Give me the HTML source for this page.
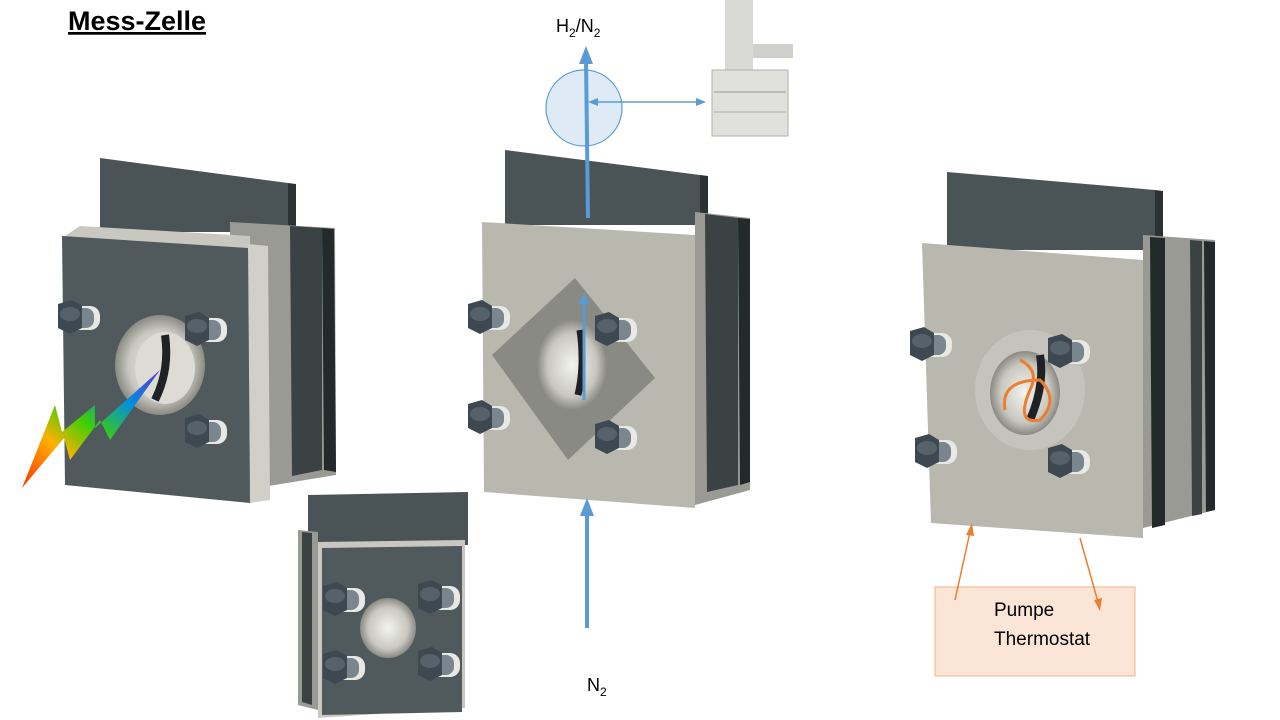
<!DOCTYPE html>
<html><head><meta charset="utf-8"><style>
html,body{margin:0;padding:0;background:#fff}
svg{display:block}
text{font-family:"Liberation Sans",sans-serif}
</style></head><body>
<svg width="1280" height="720" viewBox="0 0 1280 720" xmlns="http://www.w3.org/2000/svg">
<defs>
<linearGradient id="rb" x1="0" y1="1" x2="1" y2="0">
<stop offset="0" stop-color="#ff3000"/><stop offset="0.3" stop-color="#ffb000"/><stop offset="0.5" stop-color="#40d000"/><stop offset="0.75" stop-color="#0090e0"/><stop offset="1" stop-color="#6030d0"/>
</linearGradient>
<radialGradient id="hole"><stop offset="0" stop-color="#f4f4f0"/><stop offset="0.7" stop-color="#c8c8c0"/><stop offset="1" stop-color="#8a8a84"/></radialGradient>
<g id="bolt"><rect x="-14" y="-12" width="36" height="24" rx="10" fill="#e8e8e4"/><rect x="-14" y="-10" width="30" height="20" rx="8" fill="#7a868e"/><polygon points="-20,-14 -6,-18 4,-12 4,10 -8,16 -20,10" fill="#3e4850"/><ellipse cx="-8" cy="-4" rx="10" ry="7" fill="#56626a"/></g>
</defs>

<text x="68" y="30" font-size="27" font-weight="bold" text-decoration="underline">Mess-Zelle</text>

<!-- LEFT CELL -->
<polygon points="100,158 288,183 288,232 100,232" fill="#4a5457"/>
<polygon points="288,183 296,184 296,232 288,232" fill="#2b3234"/>
<polygon points="230,222 335,228 336,475 232,492" fill="#9a9a94"/>
<polygon points="290,226 322,228 322,470 292,476" fill="#3a4244"/>
<polygon points="322,228 334,229 336,472 324,470" fill="#24292b"/>
<polygon points="80,226 250,236 250,250 62,238" fill="#c8c8c0"/>
<polygon points="248,244 268,246 270,500 250,503" fill="#d0d0c8"/>
<polygon points="62,236 248,248 250,503 65,485" fill="#505a5d"/>
<ellipse cx="160" cy="365" rx="45" ry="50" fill="url(#hole)"/>
<ellipse cx="165" cy="368" rx="30" ry="36" fill="#dcdcd4"/>
<path d="M155,400 Q170,370 165,335" stroke="#1e2224" stroke-width="8" fill="none"/>
<use href="#bolt" x="78" y="318"/>
<use href="#bolt" x="205" y="330"/>
<use href="#bolt" x="205" y="432"/>
<polygon points="22,488 55,405 62,432 95,405 95,428 160,370 110,440 100,420 70,460 64,438" fill="url(#rb)"/>

<!-- MIDDLE CELL -->
<polygon points="505,150 700,175 700,225 505,225" fill="#4a5457"/>
<polygon points="700,175 708,176 708,225 700,225" fill="#2b3234"/>
<polygon points="695,212 750,218 750,490 695,505" fill="#9a9a94"/>
<polygon points="705,214 738,218 738,485 707,492" fill="#3a4244"/>
<polygon points="738,218 750,219 750,482 740,485" fill="#24292b"/>
<polygon points="482,222 695,235 695,508 484,492" fill="#b8b8ae"/>
<polygon points="492,355 575,278 655,378 568,460" fill="#8a8a84"/>
<ellipse cx="572" cy="365" rx="35" ry="45" fill="url(#hole)"/>
<path d="M578,395 Q585,365 580,330" stroke="#1e2224" stroke-width="7" fill="none"/>
<use href="#bolt" x="488" y="318"/>
<use href="#bolt" x="615" y="330"/>
<use href="#bolt" x="488" y="418"/>
<use href="#bolt" x="615" y="438"/>
<line x1="584" y1="400" x2="584" y2="300" stroke="#5b9bd5" stroke-width="3"/>
<polygon points="584,292 579,304 589,304" fill="#5b9bd5"/>

<!-- TOP instrument -->
<circle cx="584" cy="108" r="38" fill="#deebf7" stroke="#5b9bd5" stroke-width="1.2"/>
<line x1="588" y1="218" x2="586" y2="60" stroke="#5b9bd5" stroke-width="4"/>
<polygon points="586,46 579,64 593,64" fill="#5b9bd5"/>
<line x1="594" y1="102" x2="700" y2="102" stroke="#5b9bd5" stroke-width="1.5"/>
<polygon points="588,102 598,98 598,106" fill="#5b9bd5"/>
<polygon points="706,102 696,98 696,106" fill="#5b9bd5"/>
<text x="556" y="32" font-size="18">H<tspan font-size="12" dy="5">2</tspan><tspan dy="-5">/N</tspan><tspan font-size="12" dy="5">2</tspan></text>
<rect x="725" y="0" width="28" height="72" fill="#d8d8d4"/>
<rect x="753" y="44" width="40" height="14" fill="#cfcfcb"/>
<rect x="712" y="70" width="76" height="66" fill="#e0e0dc" stroke="#b0b0ac"/>
<line x1="714" y1="92" x2="786" y2="92" stroke="#999"/>
<line x1="714" y1="112" x2="786" y2="112" stroke="#aaa"/>

<!-- N2 -->
<line x1="587" y1="628" x2="587" y2="512" stroke="#5b9bd5" stroke-width="4"/>
<polygon points="587,498 580,516 594,516" fill="#5b9bd5"/>
<text x="587" y="691" font-size="18">N<tspan font-size="12" dy="5">2</tspan></text>

<!-- BOTTOM small cell -->
<polygon points="308,495 468,492 468,545 308,545" fill="#4a5457"/>
<polygon points="298,530 318,532 318,710 298,705" fill="#9a9a94"/>
<polygon points="302,532 312,533 312,705 302,702" fill="#3a4244"/>
<polygon points="318,542 465,540 465,708 318,718" fill="#c8c8c0"/>
<polygon points="322,548 462,546 462,712 322,715" fill="#505a5d"/>
<ellipse cx="388" cy="628" rx="28" ry="30" fill="url(#hole)"/>
<use href="#bolt" x="343" y="600"/>
<use href="#bolt" x="438" y="598"/>
<use href="#bolt" x="343" y="668"/>
<use href="#bolt" x="438" y="665"/>

<!-- RIGHT CELL -->
<polygon points="947,172 1155,190 1155,250 947,250" fill="#4a5457"/>
<polygon points="1155,190 1163,191 1163,250 1155,250" fill="#2b3234"/>
<polygon points="1143,235 1215,240 1215,510 1143,528" fill="#9a9a94"/>
<polygon points="1150,237 1165,238 1165,525 1152,528" fill="#24292b"/>
<polygon points="1190,240 1202,241 1202,514 1192,516" fill="#3a4244"/>
<polygon points="1204,241 1215,242 1215,510 1206,512" fill="#24292b"/>
<polygon points="922,243 1143,260 1143,538 931,523" fill="#b8b8ae"/>
<ellipse cx="1030" cy="390" rx="55" ry="60" fill="#c4c4bc"/>
<ellipse cx="1025" cy="393" rx="35" ry="42" fill="url(#hole)"/>
<path d="M1030,420 Q1045,385 1040,355" stroke="#1e2224" stroke-width="8" fill="none"/>
<path d="M1005,410 Q1000,380 1040,380 Q1060,400 1040,420 Q1015,425 1030,390 Q1040,370 1020,360" stroke="#ed7d31" stroke-width="3" fill="none"/>
<use href="#bolt" x="930" y="345"/>
<use href="#bolt" x="1068" y="352"/>
<use href="#bolt" x="935" y="452"/>
<use href="#bolt" x="1068" y="462"/>

<!-- orange box -->
<rect x="935" y="587" width="200" height="89" fill="#fbe5d6" stroke="#f4b183" stroke-width="1"/>
<text x="994" y="616" font-size="19">Pumpe</text>
<text x="994" y="645" font-size="19">Thermostat</text>
<line x1="955" y1="600" x2="970" y2="532" stroke="#ed7d31" stroke-width="1.5"/>
<polygon points="972,523 966,535 974,536" fill="#ed7d31"/>
<line x1="1080" y1="538" x2="1098" y2="602" stroke="#ed7d31" stroke-width="1.5"/>
<polygon points="1100,611 1094,600 1102,598" fill="#ed7d31"/>
</svg>
</body></html>
